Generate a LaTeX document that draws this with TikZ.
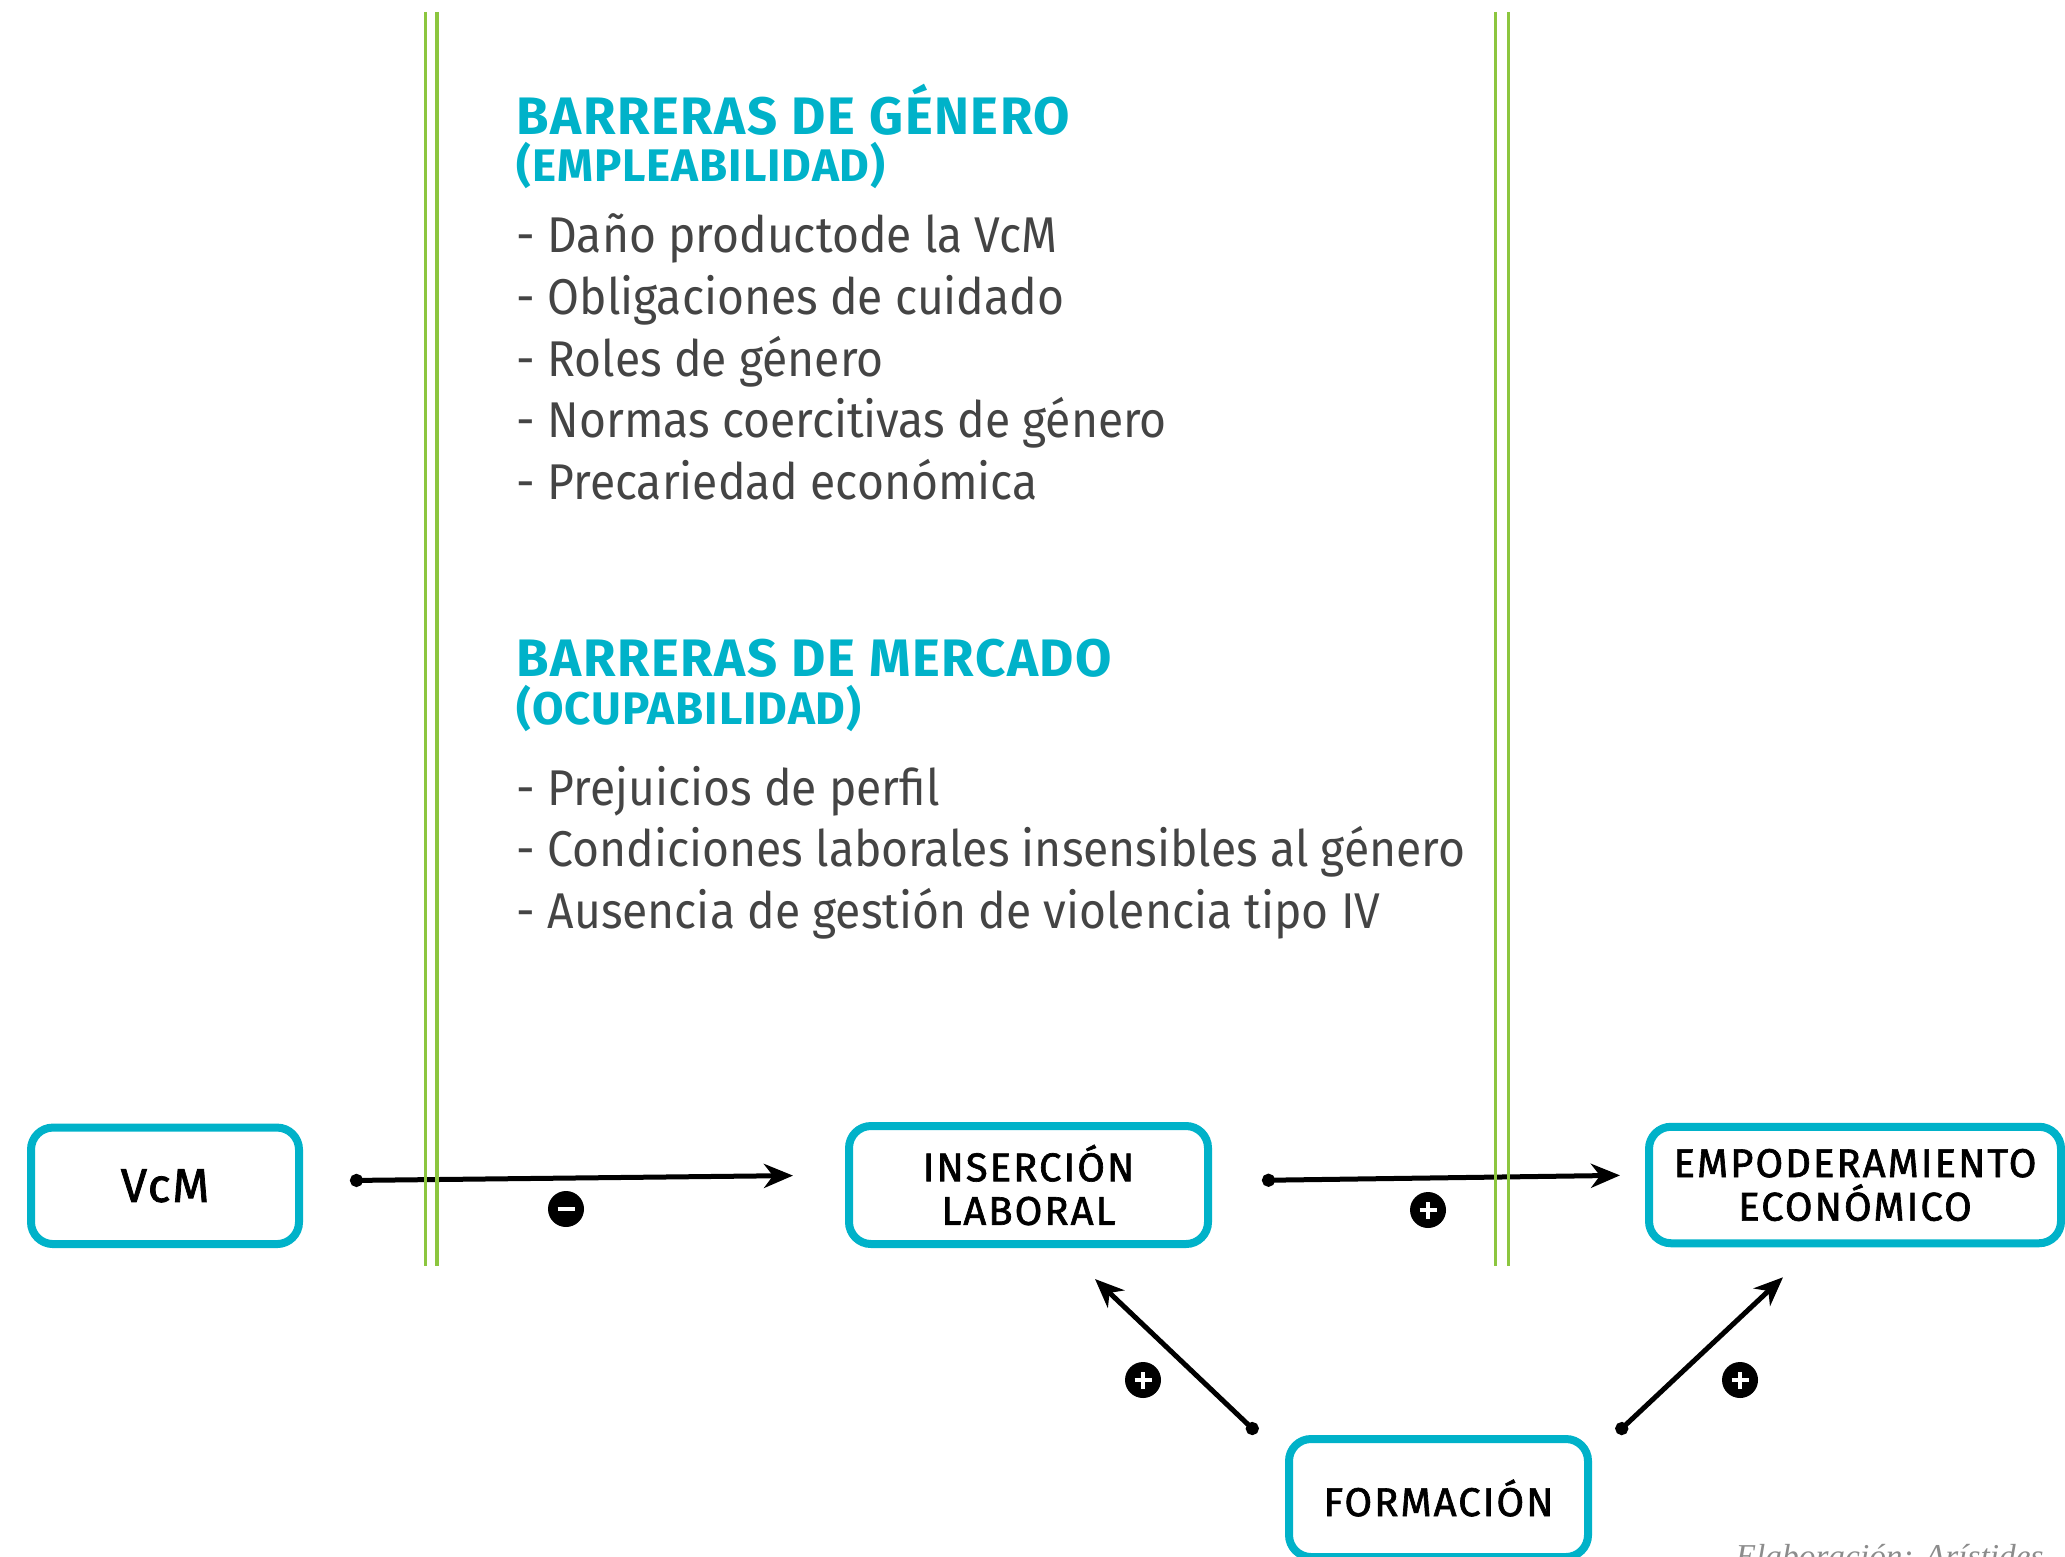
\documentclass[tikz,border=0pt]{standalone}
\usepackage{fontspec}
\setmainfont{Fira Sans}
\newfontfamily\notafont{Liberation Serif}
\usetikzlibrary{arrows.meta}

\definecolor{turquesa}{HTML}{00B2C9}
\definecolor{verdelinea}{HTML}{8CC63F}
\definecolor{grisTexto}{HTML}{444444}

\newcommand{\titulofont}{\bfseries\fontsize{15}{18}\selectfont\addfontfeatures{LetterSpace=3}}
\newcommand{\subtitulofont}{\bfseries\fontsize{13}{16}\selectfont\addfontfeatures{LetterSpace=2}}
\newcommand{\itemfont}{\fontsize{14.3}{17}\selectfont\addfontfeatures{FakeStretch=0.92}}
\newcommand{\cajafont}{\fontsize{11.4}{12.4}\selectfont\addfontfeatures{LetterSpace=5,FakeBold=1.6}}

\begin{document}
\begin{tikzpicture}[
  caja/.style={draw=turquesa, line width=0.8mm, rounded corners=2.2mm, align=center, inner sep=0pt, font=\cajafont},
  flecha/.style={line width=0.5mm, {Circle[length=1.3mm]}-{Stealth[length=2.9mm,width=2.4mm,inset=0.9mm]}},
  signo/.style={circle, fill=black, minimum size=3.6mm, inner sep=0pt},
  mas/.style={signo, path picture={\draw[white, line width=0.45mm]
      ([xshift=-0.85mm]path picture bounding box.center) -- ([xshift=0.85mm]path picture bounding box.center)
      ([yshift=-0.85mm]path picture bounding box.center) -- ([yshift=0.85mm]path picture bounding box.center);}},
  menos/.style={signo, path picture={\draw[white, line width=0.45mm]
      ([xshift=-0.85mm]path picture bounding box.center) -- ([xshift=0.85mm]path picture bounding box.center);}},
  titulo/.style={anchor=base west, inner sep=0pt, text=turquesa, font=\titulofont},
  subtitulo/.style={anchor=base west, inner sep=0pt, text=turquesa, font=\subtitulofont},
  item/.style={anchor=base west, inner sep=0pt, text=grisTexto, font=\itemfont}]
	\useasboundingbox (0,0) rectangle (20.65,-15.56);

	% barreras
	\node[titulo] (tgen) at (5.16,-1.34) {BARRERAS DE GÉNERO};
	\node[subtitulo] (sgen) at (5.16,-1.81) {(EMPLEABILIDAD)};
	\foreach \txt [count=\i] in {{- Daño productode la VcM}, {- Obligaciones de cuidado}, {- Roles de género}, {- Normas coercitivas de género}, {- Precariedad económica}}
	  \node[item] (gen\i) at (5.16,{-2.53-(\i-1)*0.615}) {\txt};
	\node[titulo] (tmer) at (5.16,-6.76) {BARRERAS DE MERCADO};
	\node[subtitulo] (smer) at (5.16,-7.24) {(OCUPABILIDAD)};
	\foreach \txt [count=\i] in {{- Prejuicios de  perfil}, {- Condiciones laborales insensibles al género}, {- Ausencia de gestión de violencia tipo IV}}
	  \node[item] (mer\i) at (5.16,{-8.05-(\i-1)*0.615}) {\txt};

	% cajas
	\node[caja, minimum width=2.68cm, minimum height=1.165cm, font=\fontsize{13.5}{15}\selectfont\addfontfeatures{LetterSpace=4,FakeBold=1.6}] (vcm) at (1.65,-11.858) {VcM};
	\node[caja, minimum width=3.59cm, minimum height=1.18cm] (ins) at (10.285,-11.85) {INSERCIÓN\\LABORAL};
	\node[caja, minimum width=4.12cm, minimum height=1.165cm] (emp) at (18.55,-11.85) {EMPODERAMIENTO\\ECONÓMICO};
	\node[caja, minimum width=2.99cm, minimum height=1.18cm] (form) at (14.385,-14.98) {FORMACIÓN};

	% flechas
	\draw[flecha, shorten <=0.47cm, shorten >=0.52cm] ([yshift=0.048cm]vcm.east) -- ([yshift=0.1cm]ins.west);
	\draw[flecha, shorten <=0.5cm, shorten >=0.25cm] ([yshift=0.04cm]ins.east) -- ([yshift=0.1cm]emp.west);
	\draw[flecha] ([shift={(-0.28,0.02)}]form.north west) -- ([shift={(0.665,-0.31)}]ins.south);
	\draw[flecha] ([shift={(0.25,0.02)}]form.north east) -- ([shift={(-0.72,-0.30)}]emp.south);

	\node[menos] (s1) at (5.66,-12.09) {};
	\node[mas] (s2) at (14.28,-12.10) {};
	\node[mas] (s3) at (11.43,-13.80) {};
	\node[mas] (s4) at (17.40,-13.80) {};

	% lineas verdes
	\draw[verdelinea, line width=0.35mm] (4.257,-0.12) -- (4.257,-12.66) (4.37,-0.12) -- (4.37,-12.66);
	\draw[verdelinea, line width=0.35mm] (14.957,-0.12) -- (14.957,-12.66) (15.083,-0.12) -- (15.083,-12.66);

	\node[anchor=base west, inner sep=0pt, text=black!45, font=\notafont\itshape\fontsize{9.5}{11}\selectfont] (nota) at (17.35,-15.67) {Elaboración: Arístides};
\end{tikzpicture}
\end{document}
